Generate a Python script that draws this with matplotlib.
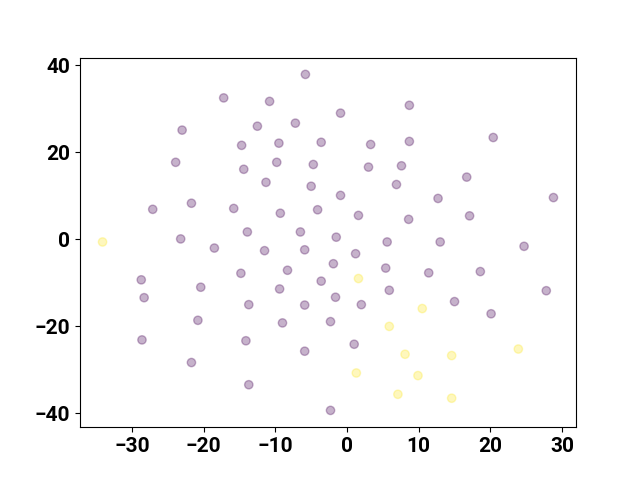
import matplotlib
matplotlib.use('Agg')
import matplotlib.pyplot as plt

plt.rcParams['font.family'] = ['Roboto', 'DejaVu Sans']
plt.rcParams['font.weight'] = 'bold'
plt.rcParams['font.size'] = 15

# purple cluster (label 0)
x0 = [-5.8, -17.2, -10.8, 8.7, -23.0, -12.5, -7.2, -0.9, -3.6, -14.7,
      -9.5, 3.3, 8.7, 20.4, -23.9, -14.4, -9.8, -4.7, 3.0, 7.6,
      16.7, -11.3, -5.0, 6.9, -27.1, -21.7, -15.8, -9.3, -4.1, -0.9,
      1.6, 8.6, 12.7, 17.1, 28.8, -23.2, -13.9, -6.5, -1.5, 13.0,
      5.6, -18.5, -11.5, -5.9, 1.2, 24.7, -28.7, -14.8, -8.3, -1.9,
      -3.6, 5.4, 11.4, 18.6, -28.3, -20.4, -9.4, -1.6, 5.9, -13.7,
      -5.9, 2.0, 15.0, 27.8, -20.8, -9.0, -2.3, 20.1, -28.6, -14.1,
      1.0, -21.7, -5.9, -13.7, -2.3]
y0 = [37.9, 32.5, 31.7, 30.8, 25.1, 26.0, 26.7, 29.0, 22.3, 21.6,
      22.1, 21.8, 22.5, 23.4, 17.7, 16.1, 17.7, 17.2, 16.6, 16.9,
      14.3, 13.1, 12.2, 12.6, 6.9, 8.3, 7.1, 6.0, 6.8, 10.1,
      5.5, 4.6, 9.4, 5.4, 9.6, 0.1, 1.7, 1.7, 0.5, -0.6,
      -0.6, -2.0, -2.6, -2.4, -3.3, -1.6, -9.3, -7.8, -7.1, -5.6,
      -9.6, -6.6, -7.7, -7.4, -13.4, -11.0, -11.4, -13.3, -11.7, -15.0,
      -15.1, -15.0, -14.3, -11.8, -18.6, -19.2, -18.9, -17.1, -23.1, -23.3,
      -24.1, -28.3, -25.7, -33.4, -39.3]

# yellow cluster (label 1)
x1 = [-34.1, 1.6, 10.5, 5.9, 8.1, 14.6, 23.9, 1.3, 9.9, 7.1, 14.6]
y1 = [-0.6, -9.0, -15.9, -20.0, -26.4, -26.7, -25.2, -30.7, -31.3, -35.6, -36.5]

xs = x0 + x1
ys = y0 + y1
labels = [0] * len(x0) + [1] * len(x1)

fig, ax = plt.subplots(figsize=(6.4, 4.8), dpi=100)
ax.scatter(xs, ys, c=labels, cmap='viridis', alpha=0.3)
ax.set_xticks([-30, -20, -10, 0, 10, 20, 30])
ax.set_yticks([-40, -20, 0, 20, 40])

fig.savefig('out.png', dpi=100)
